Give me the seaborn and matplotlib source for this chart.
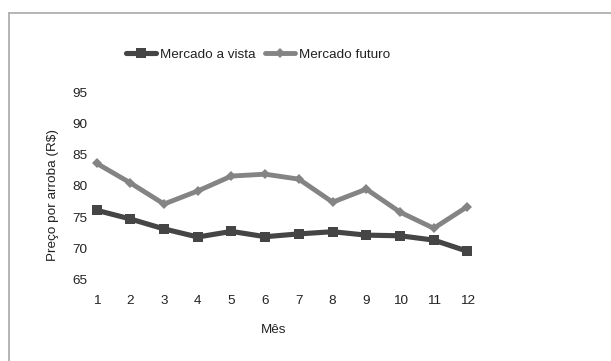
import matplotlib
matplotlib.use("Agg")
import matplotlib.pyplot as plt
from matplotlib.lines import Line2D
import seaborn as sns
import pandas as pd

# Monthly cattle prices (R$ per arroba)
meses = list(range(1, 13))
mercado_a_vista = [76.1, 74.7, 73.1, 71.8, 72.7, 71.85, 72.3, 72.65, 72.1, 72.0, 71.3, 69.5]
mercado_futuro = [83.65, 80.5, 77.1, 79.2, 81.6, 81.9, 81.1, 77.4, 79.5, 75.8, 73.2, 76.7]
serie_nomes = ["Mercado a vista", "Mercado futuro"]
y_ticks = [65, 70, 75, 80, 85, 90, 95]

df = pd.DataFrame({
    "Mês": meses * 2,
    "Preço": mercado_a_vista + mercado_futuro,
    "Série": [serie_nomes[0]] * len(meses) + [serie_nomes[1]] * len(meses),
})

sns.set_style("white")
FS = 9.7
plt.rcParams["font.family"] = ["Liberation Sans", "DejaVu Sans"]
plt.rcParams["font.size"] = FS

W, H = 611, 361
fig = plt.figure(figsize=(W / 100, H / 100), dpi=100)

# axes box in pixels; month 1 sits at px 96.6, month 12 at px 467.5
left, right, top, bottom = 91, 480, 92.7, 279.3
ax = fig.add_axes([left / W, 1 - bottom / H, (right - left) / W, (bottom - top) / H])
x1_px, x12_px = 96.6, 467.5
step = (x12_px - x1_px) / 11
x_lo = 1 - (x1_px - left) / step
x_hi = 12 + (right - x12_px) / step

cores = {serie_nomes[0]: "#454545", serie_nomes[1]: "#848484"}
sns.lineplot(
    data=df, x="Mês", y="Preço", hue="Série", style="Série",
    palette=cores, markers={serie_nomes[0]: "s", serie_nomes[1]: "D"},
    dashes=False, ax=ax, legend=False,
)
lines = ax.get_lines()
lines[0].set_linewidth(3.7)
lines[0].set_markersize(7.4)
lines[0].set_markeredgewidth(0)
lines[1].set_linewidth(3.5)
lines[1].set_markersize(5.4)
lines[1].set_markeredgewidth(0)

ax.set_xlim(x_lo, x_hi)
ax.set_ylim(65, 95)
ax.set_xticks(meses)
ax.set_xticklabels([str(m) for m in meses])
ax.set_yticks(y_ticks)
ax.tick_params(axis="x", length=0, pad=11.5, labelsize=FS, colors="#222222")
ax.tick_params(axis="y", length=0, pad=2.7, labelsize=FS, colors="#222222")
ax.set_xlabel("")
ax.set_ylabel("")
for s in ax.spines.values():
    s.set_visible(False)
ax.grid(False)

fig.text(53 / W, 1 - 195 / H, "Preço por arroba (R$)", rotation=90,
         ha="center", va="center", fontsize=FS, color="#222222")
fig.text(273.5 / W, 1 - 330 / H, "Mês", ha="center", va="center",
         fontsize=FS, color="#222222")

handles = [
    Line2D([], [], color=cores[serie_nomes[0]], lw=3.7, marker="s", markersize=7.4, markeredgewidth=0),
    Line2D([], [], color=cores[serie_nomes[1]], lw=3.5, marker="D", markersize=4.6, markeredgewidth=0),
]
em = FS * 100 / 72
fig.legend(handles, serie_nomes, loc="center", bbox_to_anchor=(258 / W, 1 - 55 / H),
           ncol=2, frameon=False, fontsize=FS, handlelength=30 / em, handletextpad=4.3 / em,
           columnspacing=9 / em, borderpad=0, labelcolor="#222222")

# outer frame: top and left edges
fig.add_artist(Line2D([8.5 / W, 1], [1 - 12.5 / H, 1 - 12.5 / H], transform=fig.transFigure,
                      color="#a8a8a8", lw=1.2))
fig.add_artist(Line2D([8.5 / W, 8.5 / W], [0, 1 - 12.5 / H], transform=fig.transFigure,
                      color="#a8a8a8", lw=1.2))

fig.savefig("out.png", dpi=100)
